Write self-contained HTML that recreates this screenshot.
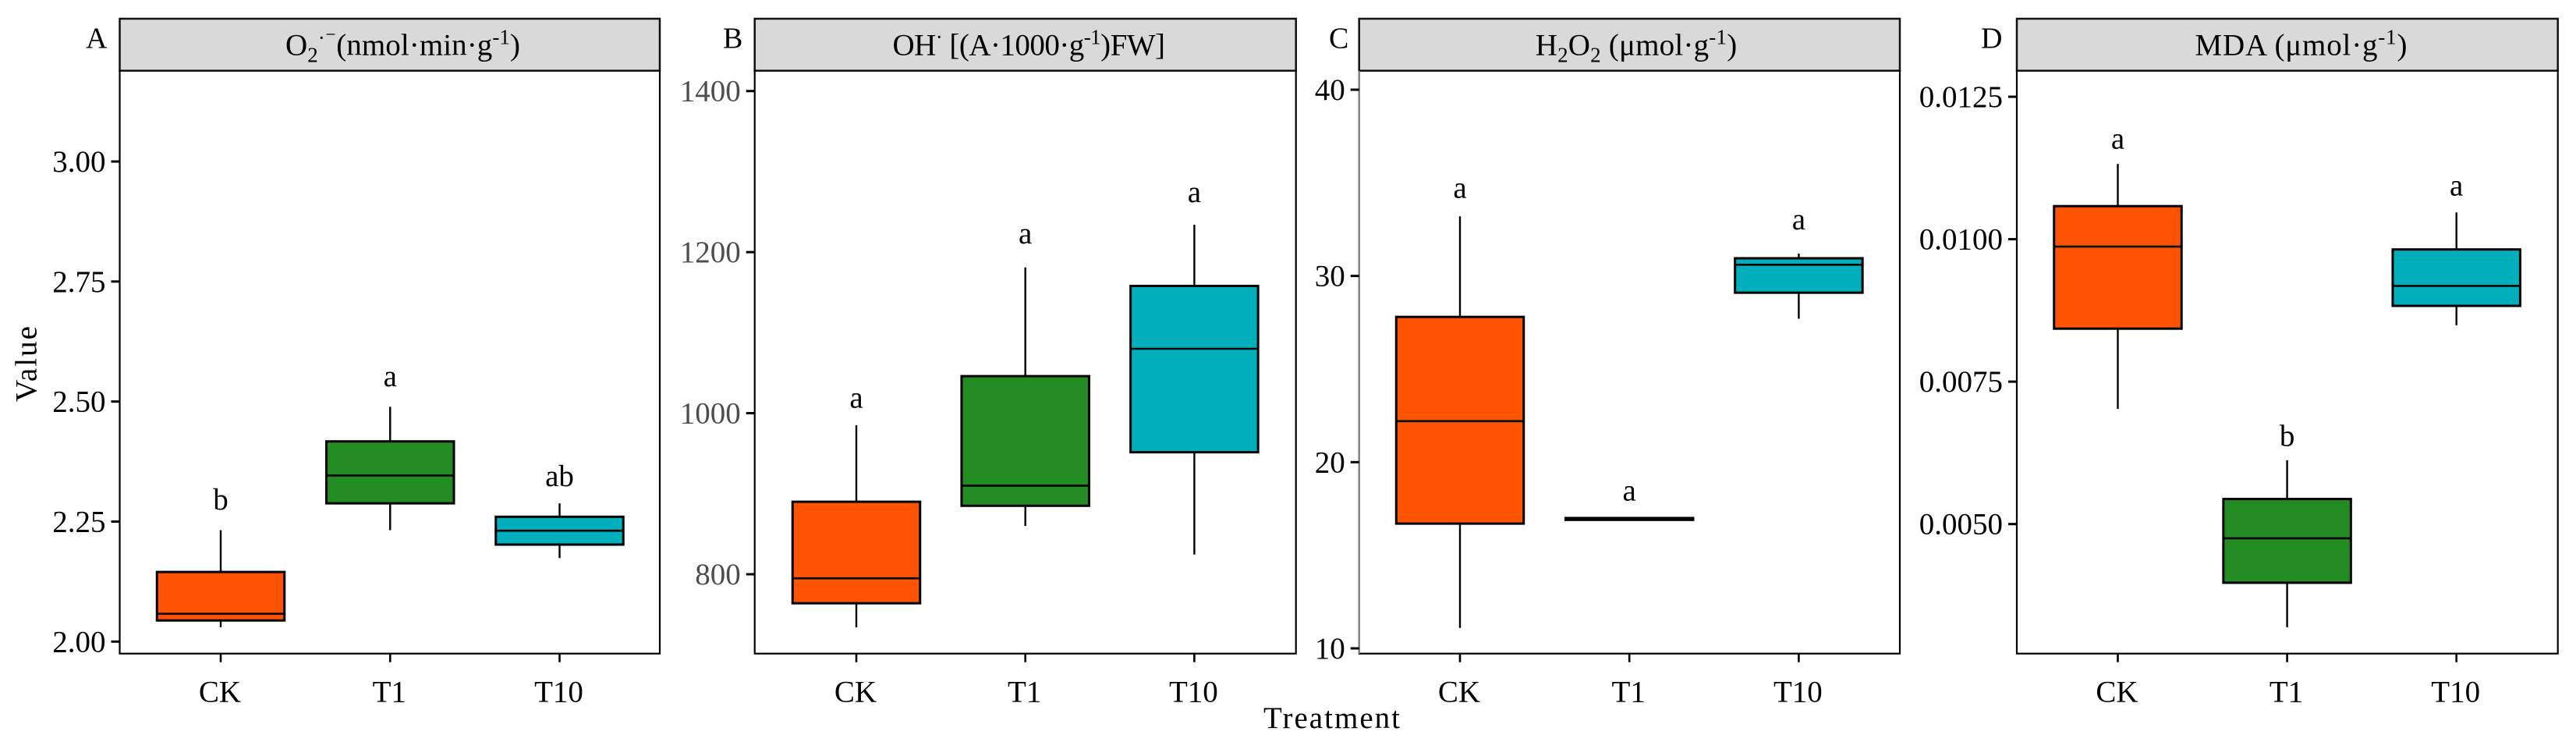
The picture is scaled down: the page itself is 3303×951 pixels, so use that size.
<!DOCTYPE html>
<html lang="en">
<head>
<meta charset="utf-8">
<title>Boxplots of O2, OH, H2O2 and MDA by treatment</title>
<style>
html,body{margin:0;padding:0;background:#fff;}
svg{display:block;}
text{font-family:"Liberation Serif",serif;fill:#000;}
</style>
</head>
<body>
<svg id="chart" xmlns="http://www.w3.org/2000/svg" width="3303" height="951" viewBox="0 0 3303 951" font-size="39">
  <rect x="0" y="0" width="3303" height="951" fill="#ffffff"/>

  <g id="panel-a"></g>
  <g id="panel-b"></g>
  <g id="panel-c"></g>
  <g id="panel-d"></g>

  <text x="110" y="61.7" font-size="38">A</text>
  <text x="927" y="61.7" font-size="38">B</text>
  <text x="1704" y="61.7" font-size="38">C</text>
  <text x="2540" y="61.7" font-size="38">D</text>

  <text x="366" y="70.7" textLength="301" lengthAdjust="spacing">O<tspan font-size="27" dy="9">2</tspan><tspan font-size="27" dy="-22">·⁻</tspan><tspan dy="13">(nmol·min·g</tspan><tspan font-size="27" dy="-14">-1</tspan><tspan dy="14">)</tspan></text>
  <text x="1144.5" y="70.7" textLength="349.5" lengthAdjust="spacing">OH<tspan font-size="27" dy="-14">·</tspan><tspan dy="14"> [(A·1000·g</tspan><tspan font-size="27" dy="-14">-1</tspan><tspan dy="14">)FW]</tspan></text>
  <text x="1968.7" y="70.7" textLength="258.5" lengthAdjust="spacing">H<tspan font-size="27" dy="9">2</tspan><tspan dy="-9">O</tspan><tspan font-size="27" dy="9">2</tspan><tspan dy="-9"> (μmol·g</tspan><tspan font-size="27" dy="-14">-1</tspan><tspan dy="14">)</tspan></text>
  <text x="2814.5" y="70.7" textLength="272" lengthAdjust="spacing">MDA (μmol·g<tspan font-size="27" dy="-14">-1</tspan><tspan dy="14">)</tspan></text>

  <text transform="translate(46.5 515) rotate(-90)" textLength="97" lengthAdjust="spacing">Value</text>
  <text x="1620" y="933" textLength="175" lengthAdjust="spacing">Treatment</text>
</svg>

<script>
const categories = ['CK', 'T1', 'T10'];
const fillColors = ['#ff5304', '#228b22', '#00afbb'];

const ticksA = [2.00, 2.25, 2.50, 2.75, 3.00];
const tickLabelsA = ['2.00', '2.25', '2.50', '2.75', '3.00'];
const highA = [2.232, 2.489, 2.288];
const q3A = [2.145, 2.417, 2.260];
const medianA = [2.058, 2.346, 2.231];
const q1A = [2.044, 2.288, 2.202];
const lowA = [2.030, 2.232, 2.174];
const lettersA = ['b', 'a', 'ab'];
const letterValuesA = [2.275, 2.532, 2.324];

const ticksB = [800, 1000, 1200, 1400];
const tickLabelsB = ['800', '1000', '1200', '1400'];
const highB = [985, 1181, 1234];
const q3B = [890, 1046, 1158];
const medianB = [795, 910, 1080];
const q1B = [764, 885, 951.5];
const lowB = [734, 860, 824.5];
const lettersB = ['a', 'a', 'a'];
const letterValuesB = [1006.7, 1211, 1262];

const ticksC = [10, 20, 30, 40];
const tickLabelsC = ['10', '20', '30', '40'];
const highC = [33.2, 17.05, 31.2];
const q3C = [27.8, 17.0, 30.95];
const medianC = [22.2, 16.95, 30.6];
const q1C = [16.7, 16.9, 29.1];
const lowC = [11.1, 16.85, 27.7];
const lettersC = ['a', 'a', 'a'];
const letterValuesC = [34.2, 17.93, 32.5];

const ticksD = [0.0050, 0.0075, 0.0100, 0.0125];
const tickLabelsD = ['0.0050', '0.0075', '0.0100', '0.0125'];
const highD = [0.01132, 0.00612, 0.01047];
const q3D = [0.01058, 0.00544, 0.00982];
const medianD = [0.00987, 0.00475, 0.00918];
const q1D = [0.00843, 0.00397, 0.00883];
const lowD = [0.00702, 0.00319, 0.00849];
const lettersD = ['a', 'b', 'a'];
const letterValuesD = [0.01159, 0.00637, 0.01077];

const NS = 'http://www.w3.org/2000/svg';
const stripTop = 24;
const stripBottom = 90.7;
const panelBottom = 837.7;
const boxWidth = 163.5;

function make(parent, tag, attrs) {
  const el = document.createElementNS(NS, tag);
  for (const k in attrs) el.setAttribute(k, attrs[k]);
  parent.appendChild(el);
  return el;
}

function linearScale(d0, d1, r0, r1) {
  return function (v) { return r0 + (v - d0) * (r1 - r0) / (d1 - d0); };
}

function drawPanel(id, p) {
  const g = document.getElementById(id);
  const y = linearScale(p.ticks[0], p.ticks[p.ticks.length - 1], p.yFirst, p.yLast);
  const x = linearScale(0, 2, p.xFirst, p.xLast);
  const w = p.right - p.left;

  const strip = make(g, 'rect', { x: p.left, y: stripTop, width: w, height: stripBottom - stripTop, fill: '#d9d9d9', stroke: '#111', 'stroke-width': 2.5 });
  
  

  const frame = make(g, 'rect', { x: p.left, y: stripBottom, width: w, height: panelBottom - stripBottom, fill: '#fff', stroke: '#000', 'stroke-width': 2.2 });
  
  

  if (p.leftEdge) {
    const edge = make(g, 'line', { x1: p.left, x2: p.left, y1: stripBottom, y2: panelBottom, stroke: p.leftEdge, 'stroke-width': 2.2 });
    
    
  }

  p.ticks.forEach(function (t, i) {
    const py = y(t);
    const tick = make(g, 'line', { x1: p.left - 11, x2: p.left, y1: py, y2: py, stroke: '#000', 'stroke-width': 3 });
    
    
    const label = make(g, 'text', { x: p.left - 18, y: py + 13, 'text-anchor': 'end', style: 'fill:' + p.tickColor });
    
    
    label.textContent = p.tickLabels[i];
  });

  categories.forEach(function (cat, i) {
    const cx = x(i);

    const xTick = make(g, 'line', { x1: cx, x2: cx, y1: panelBottom, y2: panelBottom + 11, stroke: '#000', 'stroke-width': 2.6 });
    
    

    const xLabel = make(g, 'text', { x: cx - 1, y: 899.3, 'text-anchor': 'middle' });
    
    
    xLabel.textContent = cat;

    const whisker = make(g, 'line', { x1: cx, x2: cx, y1: y(p.high[i]), y2: y(p.low[i]), stroke: '#000', 'stroke-width': 2.4 });
    
    

    const box = make(g, 'rect', { x: cx - boxWidth / 2, y: y(p.q3[i]), width: boxWidth, height: y(p.q1[i]) - y(p.q3[i]), fill: fillColors[i], stroke: '#000', 'stroke-width': 3 });
    
    

    const median = make(g, 'line', { x1: cx - boxWidth / 2, x2: cx + boxWidth / 2, y1: y(p.median[i]), y2: y(p.median[i]), stroke: '#000', 'stroke-width': 2.6 });
    
    

    const letter = make(g, 'text', { x: cx, y: y(p.letterValues[i]), 'text-anchor': 'middle' });
    
    
    letter.textContent = p.letters[i];
  });
}

drawPanel('panel-a', { left: 153.5, right: 846, xFirst: 283, xLast: 717.5, yFirst: 822.3, yLast: 207, tickColor: '#000', ticks: ticksA, tickLabels: tickLabelsA, high: highA, q3: q3A, median: medianA, q1: q1A, low: lowA, letters: lettersA, letterValues: letterValuesA });
drawPanel('panel-b', { left: 967.7, right: 1661.7, xFirst: 1098, xLast: 1531.4, yFirst: 736, yLast: 116.7, tickColor: '#4d4d4d', ticks: ticksB, tickLabels: tickLabelsB, high: highB, q3: q3B, median: medianB, q1: q1B, low: lowB, letters: lettersB, letterValues: letterValuesB });
drawPanel('panel-c', { left: 1742.7, right: 2436, xFirst: 1872, xLast: 2306.4, yFirst: 831, yLast: 115, tickColor: '#000', leftEdge: '#888', ticks: ticksC, tickLabels: tickLabelsC, high: highC, q3: q3C, median: medianC, q1: q1C, low: lowC, letters: lettersC, letterValues: letterValuesC });
drawPanel('panel-d', { left: 2586, right: 3279.7, xFirst: 2715.5, xLast: 3149.7, yFirst: 671.7, yLast: 124, tickColor: '#000', ticks: ticksD, tickLabels: tickLabelsD, high: highD, q3: q3D, median: medianD, q1: q1D, low: lowD, letters: lettersD, letterValues: letterValuesD });
</script>
</body>
</html>
